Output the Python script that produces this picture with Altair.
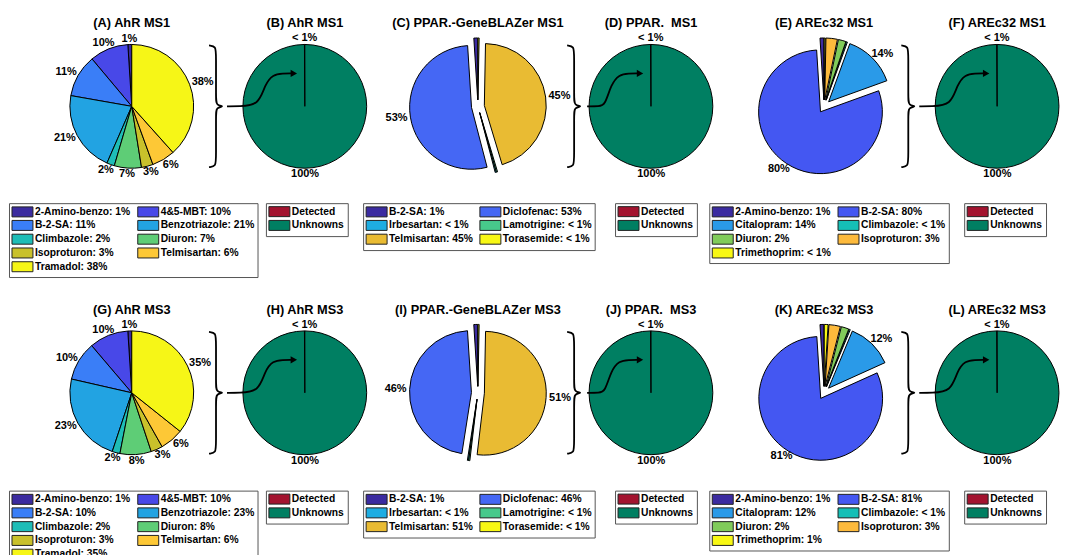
import altair as alt
import pandas as pd

FONT = "Liberation Sans"

# ---------------- data ----------------
ahr_names = ["2-Amino-benzo", "4&5-MBT", "B-2-SA", "Benzotriazole", "Climbazole",
             "Diuron", "Isoproturon", "Telmisartan", "Tramadol"]
ahr_colors = ["#3b2b9f", "#4848e8", "#3a7ef7", "#22a3e2", "#1ebdb7",
              "#5ecd76", "#c9c12b", "#fdc836", "#f6f617"]
ahr_ms1_values = [1, 10, 11, 21, 2, 7, 3, 6, 38]
ahr_ms1_pct = ["1%", "10%", "11%", "21%", "2%", "7%", "3%", "6%", "38%"]
ahr_ms3_values = [1, 10, 10, 23, 2, 8, 3, 6, 35]
ahr_ms3_pct = ["1%", "10%", "10%", "23%", "2%", "8%", "3%", "6%", "35%"]
ahr_show = [True] * 9

ppar_names = ["B-2-SA", "Diclofenac", "Irbesartan", "Lamotrigine", "Telmisartan", "Torasemide"]
ppar_colors = ["#3b2ba0", "#4567f4", "#1eade2", "#47c98b", "#e9bb33", "#f8f814"]
ppar_ms1_values = [1, 53, 0.3, 0.3, 45, 0.3]
ppar_ms1_pct = ["1%", "53%", "< 1%", "< 1%", "45%", "< 1%"]
ppar_ms3_values = [1, 46, 0.3, 0.3, 51, 0.3]
ppar_ms3_pct = ["1%", "46%", "< 1%", "< 1%", "51%", "< 1%"]
ppar_show = [False, True, False, False, True, False]

are_names = ["2-Amino-benzo", "B-2-SA", "Citalopram", "Climbazole", "Diuron",
             "Isoproturon", "Trimethoprim"]
are_colors = ["#3b2ba0", "#4457f2", "#2a9ae8", "#15bfb6", "#80cb5a", "#fdba3c", "#f8f814"]
are_ms1_values = [1, 80, 14, 0.3, 2, 3, 0.3]
are_ms1_pct = ["1%", "80%", "14%", "< 1%", "2%", "3%", "< 1%"]
are_ms3_values = [1, 81, 12, 0.3, 2, 3, 1]
are_ms3_pct = ["1%", "81%", "12%", "< 1%", "2%", "3%", "1%"]
are_show = [False, True, True, False, False, False, False]

unk_names = ["Detected", "Unknowns"]
unk_colors = ["#a3132f", "#007f62"]
unk_values = [0.1, 99.9]
unk_pct = ["< 1%", "100%"]
unk_show = [True, True]

titles_ms1 = ["(A) AhR MS1", "(B) AhR MS1", "(C) PPAR.-GeneBLAZer MS1",
              "(D) PPAR.\u00a0 MS1", "(E) AREc32 MS1", "(F) AREc32 MS1"]
titles_ms3 = ["(G) AhR MS3", "(H) AhR MS3", "(I) PPAR.-GeneBLAZer MS3",
              "(J) PPAR.\u00a0 MS3", "(K) AREc32 MS3", "(L) AREc32 MS3"]

# ---------------- layout / style ----------------
R = 62                 # pie radius (px)
SIZE = 2 * R           # panel size
LABEL_RX, LABEL_RY = 76, 68
EXPLODE = 6.5
TITLE_GAP = 17
COL_SPACING = 49.4
ROW_GAP = 163
LEGEND_X = [-61, 23, -53, 26, -53, 29]   # legend box offsets per column

# brace + arrow shapes (pixel offsets from pie centre, y up)
BRACE = [(-96, 61), (-89, 60), (-89, 52), (-89, 8), (-89, 1), (-80, 0),
         (-89, -1), (-89, -8), (-89, -52), (-89, -60), (-96, -61)]
ARROW_TAIL = [(-46, 1), (-40, 22), (-32, 32), (-22, 33), (-13, 33)]
ARROW_HEAD = (-11, 33)


def pie_panel(title, names, values, pct, colors, show, with_pct_legend,
              legend_x, legend_y, legend_cols, explode=0.0,
              brace_shift=None, arrow_start=None):
    total = float(sum(values))
    labels = [f"{n}: {p}" for n, p in zip(names, pct)] if with_pct_legend else list(names)
    df = pd.DataFrame({
        "k": list(range(len(names))),
        "v": values,
        "label": labels,
        "txt": [p if s else "" for p, s in zip(pct, show)],
    })
    xs = alt.Scale(domain=[-R, R], nice=False, zero=False)
    ys = alt.Scale(domain=[-R, R], nice=False, zero=False)

    base = (alt.Chart(df)
            .transform_window(cum="sum(v)", sort=[alt.SortField("k", order="descending")])
            .transform_calculate(start="datum.cum - datum.v")
            .transform_calculate(mid=f"(datum.cum - datum.v / 2) / {total} * 2 * PI")
            .transform_calculate(ex=f"{explode} * sin(datum.mid)")
            .transform_calculate(ey=f"{explode} * cos(datum.mid)")
            .transform_calculate(lx=f"datum.ex + {LABEL_RX} * sin(datum.mid)")
            .transform_calculate(ly=f"datum.ey + {LABEL_RY} * cos(datum.mid)"))

    arcs = base.mark_arc(stroke="black", strokeWidth=1).encode(
        theta=alt.Theta("start:Q", stack=None,
                        scale=alt.Scale(domain=[0, total], nice=False)),
        theta2="cum:Q",
        x=alt.X("ex:Q", scale=xs, axis=None),
        y=alt.Y("ey:Q", scale=ys, axis=None),
        color=alt.Color("label:N",
                        scale=alt.Scale(domain=labels, range=colors),
                        legend=alt.Legend(title=None, orient="none",
                                          legendX=legend_x, legendY=legend_y,
                                          direction="horizontal",
                                          columns=legend_cols)),
    )
    texts = base.mark_text(font=FONT, fontSize=11, fontWeight="bold",
                           color="black", baseline="middle").encode(
        x=alt.X("lx:Q", scale=xs, axis=None),
        y=alt.Y("ly:Q", scale=ys, axis=None),
        text="txt:N",
    )
    title_layer = alt.Chart(pd.DataFrame({"t": [title]})).mark_text(
        font=FONT, fontSize=12.8, fontWeight="bold", color="black",
        align="center", baseline="alphabetic").encode(
        x=alt.value(SIZE / 2), y=alt.value(-TITLE_GAP), text="t:N")
    layers = [arcs, texts, title_layer]

    if brace_shift is not None:
        bdf = pd.DataFrame({"i": list(range(len(BRACE))),
                            "bx": [p[0] + brace_shift for p in BRACE],
                            "by": [p[1] for p in BRACE]})
        layers.append(alt.Chart(bdf).mark_line(interpolate="basis", color="black",
                                               strokeWidth=1.8).encode(
            x=alt.X("bx:Q", scale=xs, axis=None),
            y=alt.Y("by:Q", scale=ys, axis=None),
            order="i:Q"))
        apts = [(arrow_start, 0), (arrow_start + 12, 0)] + ARROW_TAIL
        adf = pd.DataFrame({"i": list(range(len(apts))),
                            "ax": [p[0] for p in apts],
                            "ay": [p[1] for p in apts]})
        layers.append(alt.Chart(adf).mark_line(interpolate="basis", color="black",
                                               strokeWidth=1.8).encode(
            x=alt.X("ax:Q", scale=xs, axis=None),
            y=alt.Y("ay:Q", scale=ys, axis=None),
            order="i:Q"))
        hdf = pd.DataFrame({"hx": [ARROW_HEAD[0]], "hy": [ARROW_HEAD[1]]})
        layers.append(alt.Chart(hdf).mark_point(shape="triangle-right", filled=True,
                                                color="black", size=55, opacity=1).encode(
            x=alt.X("hx:Q", scale=xs, axis=None),
            y=alt.Y("hy:Q", scale=ys, axis=None)))

    return alt.layer(*layers).properties(width=SIZE, height=SIZE)


def row(titles, ahr_v, ahr_p, ppar_v, ppar_p, are_v, are_p, ly):
    panels = [
        pie_panel(titles[0], ahr_names, ahr_v, ahr_p, ahr_colors, ahr_show, True,
                  LEGEND_X[0], ly, 2),
        pie_panel(titles[1], unk_names, unk_values, unk_pct, unk_colors, unk_show, False,
                  LEGEND_X[1], ly, 1, brace_shift=0, arrow_start=-78),
        pie_panel(titles[2], ppar_names, ppar_v, ppar_p, ppar_colors, ppar_show, True,
                  LEGEND_X[2], ly, 2, explode=EXPLODE),
        pie_panel(titles[3], unk_names, unk_values, unk_pct, unk_colors, unk_show, False,
                  LEGEND_X[3], ly, 1, brace_shift=12, arrow_start=-64),
        pie_panel(titles[4], are_names, are_v, are_p, are_colors, are_show, True,
                  LEGEND_X[4], ly, 2, explode=EXPLODE),
        pie_panel(titles[5], unk_names, unk_values, unk_pct, unk_colors, unk_show, False,
                  LEGEND_X[5], ly, 1, brace_shift=0, arrow_start=-78),
    ]
    return alt.hconcat(*panels, spacing=COL_SPACING, bounds="flush").resolve_scale(color="independent")


row1 = row(titles_ms1, ahr_ms1_values, ahr_ms1_pct, ppar_ms1_values, ppar_ms1_pct,
           are_ms1_values, are_ms1_pct, 159)
row2 = row(titles_ms3, ahr_ms3_values, ahr_ms3_pct, ppar_ms3_values, ppar_ms3_pct,
           are_ms3_values, are_ms3_pct, 160)

chart = (alt.vconcat(row1, row2, spacing=SIZE + ROW_GAP, bounds="flush")
         .resolve_scale(color="independent")
         .properties(padding={"left": 0, "top": 9, "right": 0, "bottom": 0})
         .configure_view(stroke=None)
         .configure_legend(symbolType="M-2.1,-1H2.1V1H-2.1Z", symbolSize=100,
                           symbolStrokeColor="#222222", symbolStrokeWidth=1,
                           symbolOffset=5, labelOffset=7, labelFont=FONT,
                           labelFontSize=10.3, labelFontWeight="bold", labelColor="black",
                           rowPadding=-1.2, columnPadding=5, padding=3,
                           strokeColor="#555555", fillColor="white", labelLimit=400))

chart.save("out.html", embed_options={"renderer": "svg", "actions": False})
